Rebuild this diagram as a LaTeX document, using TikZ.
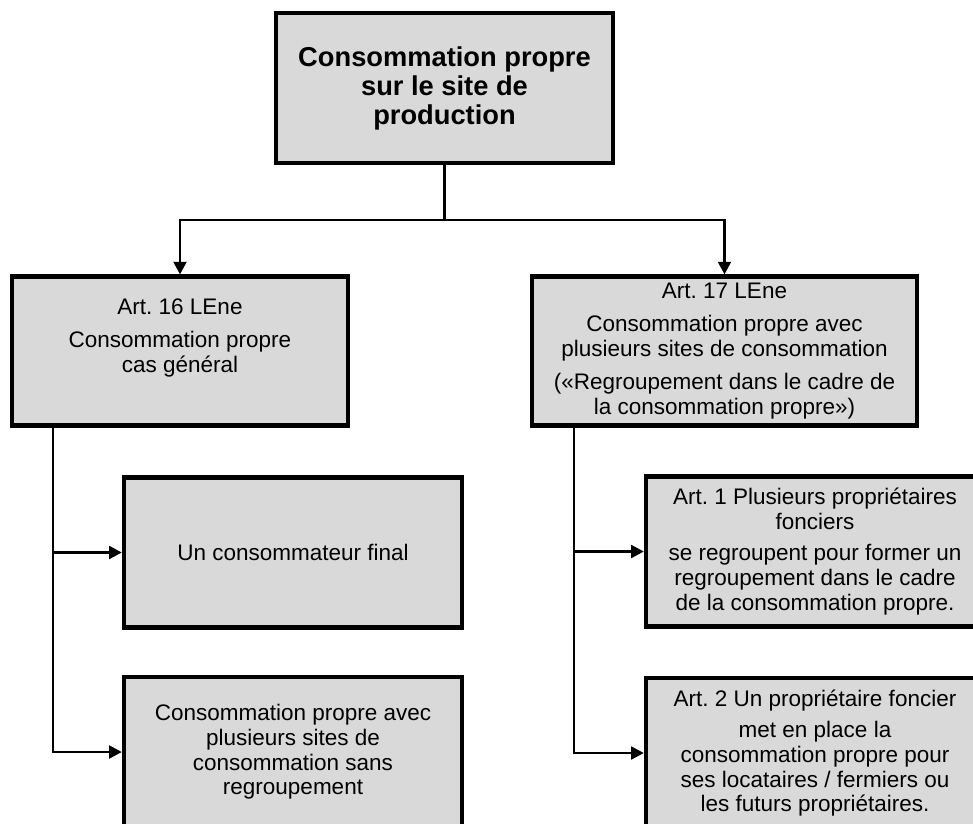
\documentclass[tikz,border=0pt]{standalone}
\usepackage{fontspec}
\setmainfont{Liberation Sans}
\usetikzlibrary{arrows.meta}
\frenchspacing

\begin{document}
\begin{tikzpicture}[x=0.025cm, y=-0.025cm]

    % --- Styles ---
    \tikzset{
        % Basis-Stil fuer alle Kaesten
        component/.style={
            draw,
            fill=gray!30,
            line width=3pt,
            font=\fontsize{16pt}{17.5pt}\selectfont,
            align=center,
            inner sep=0pt
        },
        topbox/.style={
            component,
            font=\fontsize{19.4pt}{20.6pt}\selectfont\bfseries,
            minimum width=8.425cm,
            minimum height=3.75cm
        },
        lawbox/.style={
            component,
            minimum height=3.72cm
        },
        casebox/.style={
            component,
            minimum width=8.45cm,
            minimum height=3.75cm
        },
        labeltext/.style={
            font=\fontsize{16pt}{17.5pt}\selectfont,
            align=center,
            inner sep=0pt
        },
        connector/.style={
            line width=2pt,
            >={Triangle[length=9pt, width=9pt]}
        }
    }

    \clip (0,0) rectangle (973,823);

    % --- 1. Kaesten ---

    % Oben
    \node[topbox] (top) at (444.5, 88) {Consommation propre\\sur le site de\\production};

    % Art. 16 (Text oben ausgerichtet)
    \node[lawbox, minimum width=8.4cm] (art16) at (180, 351) {};
    \node[labeltext, anchor=north] (art16text) at ([yshift=-17pt]art16.north)
        {Art. 16 LEne\\[6pt]Consommation propre\\cas général};

    % Art. 17
    \node[lawbox, minimum width=9.625cm] (art17) at (724.5, 351)
        {Art. 17 LEne\\[6pt]Consommation propre avec\\plusieurs sites de consommation\\[6pt](«Regroupement dans le cadre de\\la consommation propre»)};

    % Faelle links
    \node[casebox] (final) at (293, 552.5) {Un consommateur final};
    \node[casebox] (sans) at (293, 752)
        {Consommation propre avec\\plusieurs sites de\\consommation sans\\regroupement};

    % Faelle rechts
    \node[casebox] (plusieurs) at (815, 551.5)
        {Art. 1 Plusieurs propriétaires\\fonciers\\[5pt]se regroupent pour former un\\regroupement dans le cadre\\de la consommation propre.};
    \node[casebox] (unseul) at (815, 753)
        {Art. 2 Un propriétaire foncier\\[5pt]met en place la\\consommation propre pour\\ses locataires / fermiers ou\\les futurs propriétaires.};

    % --- 2. Verbindungen ---
    \coordinate (fork) at (444.5, 220);
    \coordinate (lefttrunk) at (53, 0);
    \coordinate (righttrunk) at (574, 0);

    \draw[connector] (top.south) -- (fork);
    \draw[connector, ->] (fork) -| (art16.north);
    \draw[connector, ->] (fork) -| (art17.north);

    % Links
    \draw[connector, ->] (art16.south -| lefttrunk) |- (final.west);
    \draw[connector, ->] (art16.south -| lefttrunk) |- (sans.west);

    % Rechts
    \draw[connector, ->] (art17.south -| righttrunk) |- (plusieurs.west);
    \draw[connector, ->] (art17.south -| righttrunk) |- (unseul.west);

\end{tikzpicture}
\end{document}
